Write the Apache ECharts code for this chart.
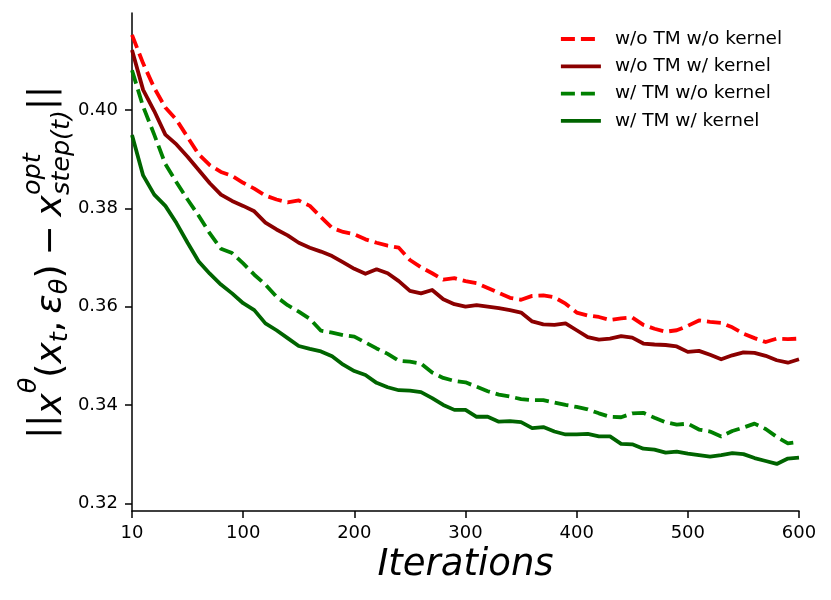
<!DOCTYPE html>
<html>
<head>
<meta charset="utf-8">
<script src="https://cdn.jsdelivr.net/npm/echarts@6/dist/echarts.min.js"></script>
<style>html,body{margin:0;padding:0;background:#fff}#c{width:831px;height:600px}</style>
</head>
<body>
<div id="c"></div>
<script>
// ---- data ----
const iters = [0,10,20,30,40,50,60,70,80,90,100,110,120,130,140,150,160,170,180,190,200,
  210,220,230,240,250,260,270,280,290,300,310,320,330,340,350,360,370,380,390,400,
  410,420,430,440,450,460,470,480,490,500,510,520,530,540,550,560,570,580,590,600];
const xTickLabels = ['10','100','200','300','400','500','600'];
const yTicks = [0.32,0.34,0.36,0.38,0.40];
const seriesNames = ['w/o TM w/o kernel','w/o TM w/ kernel','w/ TM w/o kernel','w/ TM w/ kernel'];
const woTMwoK = [0.4153,0.4095,0.4045,0.4005,0.3980,0.3945,0.3910,0.3888,0.3874,0.3866,0.3852,
  0.3840,0.3826,0.3818,0.3812,0.3816,0.3805,0.3782,0.3760,0.3752,0.3747,
  0.3737,0.3730,0.3724,0.3720,0.3695,0.3680,0.3668,0.3655,0.3658,0.3652,
  0.3648,0.3638,0.3628,0.3618,0.3614,0.3622,0.3623,0.3619,0.3606,0.3588,
  0.3582,0.3579,0.3573,0.3576,0.3578,0.3563,0.3555,0.3549,0.3552,0.3561,
  0.3572,0.3569,0.3567,0.3558,0.3545,0.3536,0.3528,0.3535,0.3534,0.3535];
const woTMwK = [0.4122,0.4041,0.3998,0.3950,0.3930,0.3905,0.3878,0.3851,0.3828,0.3815,0.3805,
  0.3794,0.3771,0.3757,0.3745,0.3730,0.3720,0.3712,0.3703,0.3690,0.3677,
  0.3667,0.3676,0.3668,0.3652,0.3632,0.3627,0.3634,0.3615,0.3605,0.3600,
  0.3603,0.3600,0.3597,0.3593,0.3588,0.3570,0.3564,0.3563,0.3566,0.3552,
  0.3538,0.3533,0.3535,0.3540,0.3537,0.3525,0.3523,0.3522,0.3519,0.3508,
  0.3510,0.3502,0.3493,0.3501,0.3507,0.3506,0.3500,0.3491,0.3486,0.3493];
const wTMwoK = [0.4081,0.4007,0.3950,0.3890,0.3853,0.3818,0.3785,0.3749,0.3718,0.3709,0.3688,
  0.3665,0.3645,0.3620,0.3603,0.3590,0.3575,0.3551,0.3547,0.3542,0.3539,
  0.3527,0.3515,0.3504,0.3490,0.3488,0.3484,0.3466,0.3455,0.3449,0.3446,
  0.3437,0.3428,0.3421,0.3417,0.3412,0.3410,0.3410,0.3405,0.3400,0.3396,
  0.3391,0.3383,0.3376,0.3375,0.3383,0.3384,0.3374,0.3365,0.3360,0.3362,
  0.3350,0.3346,0.3336,0.3347,0.3354,0.3362,0.3351,0.3335,0.3322,0.3325];
const wTMwK = [0.3949,0.3867,0.3828,0.3805,0.3770,0.3730,0.3692,0.3667,0.3645,0.3627,0.3607,
  0.3593,0.3566,0.3552,0.3536,0.3520,0.3514,0.3509,0.3499,0.3482,0.3469,
  0.3461,0.3445,0.3436,0.3430,0.3429,0.3426,0.3414,0.3400,0.3390,0.3390,
  0.3376,0.3376,0.3366,0.3367,0.3365,0.3353,0.3355,0.3346,0.3340,0.3340,
  0.3341,0.3336,0.3336,0.3321,0.3320,0.3311,0.3309,0.3303,0.3305,0.3301,
  0.3298,0.3295,0.3298,0.3302,0.3300,0.3292,0.3286,0.3280,0.3291,0.3293];

// ---- y-axis label (math-like), built from text pieces ----
const FF = '"DejaVu Sans"';
const F = 36, S = 25.5;
const yLabelParts = [
  {t:'||', it:false, sz:F, dy:-8.5},
  {t:'x', it:true, sz:F, dy:0},
  {t:'θ', it:true, sz:S, dy:-25},
  {t:'(', it:false, sz:F, dy:0},
  {t:'x', it:true, sz:F, dy:0},
  {t:'t', it:true, sz:S, dy:6},
  {t:',\u2009', it:false, sz:F, dy:0},
  {t:'ε', it:true, sz:F, dy:0},
  {t:'θ', it:true, sz:S, dy:6},
  {t:')', it:false, sz:F, dy:0},
  {t:'\u2005−\u2005', it:false, sz:F, dy:0},
  {t:'x', it:true, sz:F, dy:0},
  {t:'opt', it:true, sz:S, dy:-21, stack:true},
  {t:'step(t)', it:true, sz:S, dy:8},
  {t:'||', it:false, sz:F, dy:-8.5}
];
const ctx = document.createElement('canvas').getContext('2d');
function measure(t, it, sz){ ctx.font = (it?'italic ':'') + sz + 'px ' + FF; return ctx.measureText(t).width; }
let cur = 0; const kids = [];
yLabelParts.forEach(p => {
  kids.push({type:'text', x:cur, y:p.dy - 0.23*p.sz,
    style:{text:p.t, fontSize:p.sz, fontStyle:p.it?'italic':'normal', fontFamily:'DejaVu Sans',
      fill:'#000', align:'left', verticalAlign:'middle'}});
  if(!p.stack) cur += measure(p.t, p.it, p.sz);
});
const totalLen = cur;

const chart = echarts.init(document.getElementById('c'), null, {renderer:'canvas'});
const colors = ['#ff0000','#8b0000','#008000','#006400'];
const dashes = [[14,6],'solid',[14,6],'solid'];
const vals = [woTMwoK, woTMwK, wTMwoK, wTMwK];

chart.setOption({
  animation:false,
  backgroundColor:'#fff',
  grid:{left:132, top:13, width:667, height:498, containLabel:false},
  legend:{
    orient:'vertical', left:559, top:29.5, padding:0,
    itemWidth:40, itemHeight:18, itemGap:8.3,
    itemStyle:{opacity:0},
    lineStyle:{width:3.8},
    textStyle:{fontFamily:'DejaVu Sans', fontSize:18.5, color:'#000', lineHeight:18, padding:[0,0,0,9]},
    data:seriesNames
  },
  xAxis:{
    type:'value', min:0, max:600, interval:100,
    name:'Iterations', nameLocation:'middle', nameGap:35,
    nameTextStyle:{fontFamily:'DejaVu Sans', fontStyle:'italic', fontSize:37, color:'#000'},
    axisLine:{lineStyle:{color:'#000', width:1.5}},
    axisTick:{length:7, lineStyle:{color:'#000', width:1.5}},
    axisLabel:{fontFamily:'DejaVu Sans', fontSize:18, color:'#000', margin:13,
      formatter:(v)=> xTickLabels[Math.round(v/100)]},
    splitLine:{show:false}
  },
  yAxis:{
    type:'value', min:0.31843, max:0.41974,
    axisLine:{show:true, lineStyle:{color:'#000', width:1.5}},
    axisTick:{show:true, length:7, lineStyle:{color:'#000', width:1.5}, customValues:yTicks},
    axisLabel:{fontFamily:'DejaVu Sans', fontSize:18, color:'#000', margin:14,
      customValues:yTicks, formatter:(v)=> v.toFixed(2)},
    splitLine:{show:false}
  },
  graphic:[{
    type:'group', x:60, y:262.3 + totalLen/2, rotation:Math.PI/2, children:kids
  }],
  series: seriesNames.map((n,i)=>({
    name:n, type:'line', symbol:'none', showSymbol:false,
    data: iters.map((x,j)=>[x, vals[i][j]]),
    lineStyle:{color:colors[i], width:3.8, type:dashes[i], cap:'butt', join:'round'},
    itemStyle:{color:colors[i]},
    z: 2+i
  }))
});
</script>
</body>
</html>
